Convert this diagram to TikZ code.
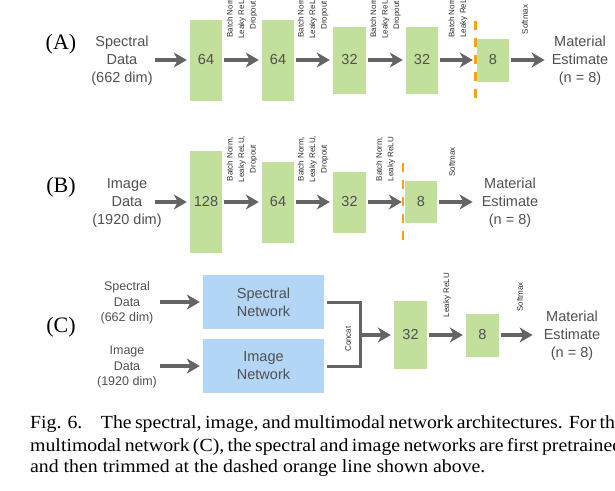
\documentclass[tikz,border=0pt]{standalone}
\usepackage{fontspec}
\setmainfont{Liberation Serif}
\setsansfont{Liberation Sans}
\newfontfamily\capfont[FakeStretch=1.07]{Liberation Serif}
\usetikzlibrary{arrows.meta}
\definecolor{boxgreen}{RGB}{194,223,155}
\definecolor{boxblue}{RGB}{179,213,246}
\definecolor{arrgrey}{RGB}{100,100,100}
\definecolor{txtgrey}{RGB}{80,80,80}
\definecolor{labgrey}{RGB}{45,45,45}
\definecolor{cutorange}{RGB}{247,162,28}
\begin{document}
\begin{tikzpicture}[x=1pt,y=-1pt,
  gbox/.style={fill=boxgreen, inner sep=0pt, text=txtgrey, font=\sffamily\fontsize{14.5}{18}\selectfont},
  bbox/.style={fill=boxblue, inner sep=0pt, minimum width=121pt, minimum height=54pt, text=txtgrey, align=center, font=\sffamily\fontsize{14.5}{18}\selectfont},
  io/.style={align=center, inner sep=0pt, text=txtgrey, font=\sffamily\fontsize{14.5}{18}\selectfont},
  ioc/.style={io, font=\sffamily\fontsize{12.5}{15.5}\selectfont},
  lab/.style={rotate=90, align=center, inner sep=0pt, text=labgrey, font=\sffamily\fontsize{8}{11.5}\selectfont},
  arr/.style={draw=arrgrey, line width=4pt, shorten <=2pt, shorten >=3pt, -{Stealth[length=13pt,width=15pt,inset=4pt]}},
  brk/.style={draw=arrgrey, line width=3pt, line join=miter},
  cutline/.style={draw=cutorange, line width=2.6pt, dash pattern=on 9pt off 8pt},
  panel/.style={inner sep=0pt, font=\fontsize{22}{24}\selectfont},
  captext/.style={anchor=base west, inner sep=0pt, font=\capfont\fontsize{18.5}{21}\selectfont},
]
\path[use as bounding box] (0,0) rectangle (615,490);
\clip (0,0) rectangle (615,490);

% ---------- (A)
\node[panel] (pA) at (61,44) {(A)};
\node[io] (inA) at (122,61) {Spectral\\Data\\(662 dim)};
\coordinate (sA) at (155,60);
\node[gbox, minimum width=32pt, minimum height=81pt] (a1) at (206,60) {64};
\node[gbox, minimum width=32pt, minimum height=81pt] (a2) at (278,60) {64};
\node[gbox, minimum width=33pt, minimum height=67pt] (a3) at (349.5,60) {32};
\node[gbox, minimum width=32pt, minimum height=67pt] (a4) at (422,60) {32};
\node[gbox, minimum width=32pt, minimum height=43pt] (a5) at (493,60) {8};
\node[io] (outA) at (580,61) {Material\\Estimate\\(n = 8)};
\node[lab] (lA1) at (242,15.5) {Batch Norm,\\Leaky ReLU,\\Dropout};
\node[lab] (lA2) at (313,15.5) {Batch Norm,\\Leaky ReLU,\\Dropout};
\node[lab] (lA3) at (385.5,15.5) {Batch Norm,\\Leaky ReLU,\\Dropout};
\node[lab] (lA4) at (458,15.5) {Batch Norm,\\Leaky ReLU};
\node[lab] (lA5) at (525,19.5) {Softmax};
\draw[arr, shorten <=0pt] (sA) -- (a1);
\draw[arr] (a1) -- (a2);
\draw[arr] (a2) -- (a3);
\draw[arr] (a3) -- (a4);
\draw[arr, shorten >=4pt] (a4) -- (a5);
\draw[arr, shorten >=7pt] (a5) -- (outA.west |- a5);
\draw[cutline] (475.5,21) -- (475.5,98);

% ---------- (B)
\node[panel] (pB) at (61,187) {(B)};
\node[io] (inB) at (127,203) {Image\\Data\\(1920 dim)};
\coordinate (sB) at (155,202);
\node[gbox, minimum width=32pt, minimum height=102pt] (b1) at (206,202) {128};
\node[gbox, minimum width=32pt, minimum height=81pt] (b2) at (278,202) {64};
\node[gbox, minimum width=33pt, minimum height=61pt] (b3) at (349.5,202) {32};
\node[gbox, minimum width=32pt, minimum height=42pt] (b4) at (421,202) {8};
\node[io] (outB) at (510,203) {Material\\Estimate\\(n = 8)};
\node[lab] (lB1) at (242,159) {Batch Norm,\\Leaky ReLU,\\Dropout};
\node[lab] (lB2) at (313,159) {Batch Norm,\\Leaky ReLU,\\Dropout};
\node[lab] (lB3) at (385.5,159) {Batch Norm,\\Leaky ReLU};
\node[lab] (lB4) at (452,162) {Softmax};
\draw[arr, shorten <=0pt] (sB) -- (b1);
\draw[arr] (b1) -- (b2);
\draw[arr] (b2) -- (b3);
\draw[arr] (b3) -- (b4);
\draw[arr, shorten >=9pt] (b4) -- (outB.west |- b4);
\draw[cutline] (403,163) -- (403,242);

% ---------- (C)
\node[panel] (pC) at (61,327) {(C)};
\node[ioc] (inC1) at (127,303) {Spectral\\Data\\(662 dim)};
\node[ioc] (inC2) at (127,367) {Image\\Data\\(1920 dim)};
\coordinate (sC1) at (160,302);
\coordinate (sC2) at (160,366);
\node[bbox] (sn) at (263.5,302) {Spectral\\Network};
\node[bbox] (imn) at (263.5,366) {Image\\Network};
\coordinate (cc) at (360,335);
\node[gbox, minimum width=33pt, minimum height=68pt] (c1) at (410.5,335) {32};
\node[gbox, minimum width=33pt, minimum height=43pt] (c2) at (482.5,335) {8};
\node[io] (outC) at (572,336) {Material\\Estimate\\(n = 8)};
\node[lab] (lC0) at (348,339) {Concat};
\node[lab] (lC1) at (447,295) {Leaky ReLU};
\node[lab] (lC2) at (520,297) {Softmax};
\draw[arr, shorten <=0pt] (sC1) -- (sn);
\draw[arr, shorten <=0pt] (sC2) -- (imn);
\draw[brk] ([xshift=3pt]sn.east) -| (cc) |- ([xshift=3pt]imn.east);
\draw[arr, shorten <=0pt] (cc) -- (c1);
\draw[arr] (c1) -- (c2);
\draw[arr, shorten >=11pt] (c2) -- (outC.west |- c2);

% ---------- caption
\node[captext] (cap1) at (30,428) {\makebox[588pt][s]{Fig. 6.\hspace{1em}The spectral, image, and multimodal network architectures. For the}};
\node[captext] (cap2) at (30,451) {\makebox[588pt][s]{multimodal network (C), the spectral and image networks are first pretrained}};
\node[captext] (cap3) at (30,472) {and then trimmed at the dashed orange line shown above.};
\end{tikzpicture}
\end{document}
